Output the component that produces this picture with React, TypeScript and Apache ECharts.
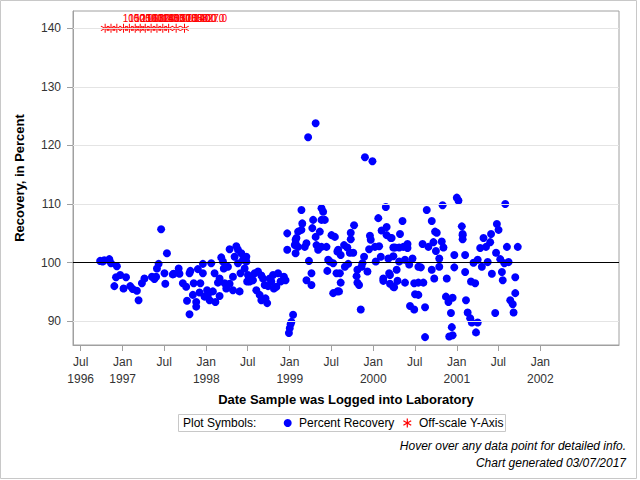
import React, { useEffect, useRef } from "react";
import * as echarts from "echarts";

const FONT = "'Liberation Sans', Arial, Helvetica, sans-serif";

// Axis ticks (x in decimal years: Jan 1 and Jul 1 of each year)
const xTickValues = [1996.497, 1997, 1997.497, 1998, 1998.497, 1999, 1999.497, 2000, 2000.497, 2001, 2001.497, 2002];
const yTickValues = [90, 100, 110, 120, 130, 140];
const referenceLevel = 100;

// [sample date (decimal year), percent recovery]
const recovery1996 = [
  [1996.73, 100.3], [1996.76, 100.2], [1996.78, 100.4], [1996.84, 100.6], [1996.86, 99.9],
  [1996.9, 96.0], [1996.92, 97.5], [1996.93, 99.4], [1996.97, 97.9],
];
const recovery1997 = [
  [1997.01, 95.6], [1997.04, 97.5], [1997.09, 96.0], [1997.12, 95.5], [1997.17, 95.2], [1997.19, 93.6],
  [1997.23, 96.5], [1997.26, 97.3], [1997.35, 97.6], [1997.38, 97.2], [1997.4, 97.6], [1997.41, 99.0],
  [1997.43, 99.8], [1997.46, 105.7], [1997.5, 98.2], [1997.51, 96.4], [1997.53, 101.6], [1997.6, 98.0],
  [1997.61, 98.1], [1997.67, 99.0], [1997.68, 98.1], [1997.72, 96.5], [1997.76, 95.9], [1997.77, 93.5],
  [1997.8, 91.2], [1997.8, 98.2], [1997.81, 98.6], [1997.84, 94.5], [1997.85, 96.5], [1997.88, 93.3],
  [1997.88, 92.5], [1997.9, 98.9], [1997.92, 94.9], [1997.93, 96.5], [1997.96, 99.8], [1997.96, 98.2],
  [1997.98, 94.2],
];
const recovery1998 = [
  [1998.01, 95.3], [1998.02, 94.5], [1998.04, 93.6], [1998.06, 99.9], [1998.08, 95.1], [1998.1, 98.2],
  [1998.11, 93.3], [1998.14, 96.6], [1998.16, 94.3], [1998.16, 97.3], [1998.18, 100.9], [1998.2, 100.2],
  [1998.21, 99.0], [1998.22, 96.5], [1998.24, 95.6], [1998.26, 99.3], [1998.28, 102.3], [1998.28, 96.4],
  [1998.32, 95.3], [1998.32, 97.6], [1998.34, 101.0], [1998.36, 102.8], [1998.38, 102.2], [1998.38, 99.9],
  [1998.4, 95.1], [1998.41, 98.2], [1998.42, 101.6], [1998.44, 100.5], [1998.46, 99.0], [1998.48, 101.0],
  [1998.48, 100.2], [1998.49, 96.8], [1998.5, 97.9], [1998.51, 97.6], [1998.52, 96.8], [1998.54, 97.5],
  [1998.56, 97.0], [1998.58, 98.2], [1998.6, 95.3], [1998.62, 98.5], [1998.64, 94.5], [1998.66, 93.6],
  [1998.66, 97.8], [1998.68, 97.3], [1998.7, 96.2], [1998.71, 93.9], [1998.73, 93.1], [1998.74, 96.0],
  [1998.76, 97.3], [1998.78, 96.8], [1998.8, 97.9], [1998.81, 95.6], [1998.84, 95.9], [1998.86, 98.2],
  [1998.89, 96.8], [1998.93, 97.6], [1998.95, 97.0], [1998.97, 105.0], [1998.97, 102.2], [1998.99, 88.0],
];
const recovery1999 = [
  [1999.0, 88.8], [1999.01, 89.5], [1999.02, 89.9], [1999.04, 91.1], [1999.06, 103.0], [1999.07, 103.9],
  [1999.07, 101.6], [1999.07, 103.3], [1999.08, 104.2], [1999.1, 105.3], [1999.1, 102.7], [1999.14, 109.0],
  [1999.15, 106.7], [1999.14, 105.6], [1999.18, 102.7], [1999.2, 103.3], [1999.2, 97.0], [1999.22, 121.4],
  [1999.23, 100.3], [1999.26, 98.2], [1999.26, 96.2], [1999.27, 105.9], [1999.28, 107.3], [1999.31, 123.8],
  [1999.31, 104.4], [1999.32, 103.0], [1999.34, 102.2], [1999.36, 105.3], [1999.38, 109.3], [1999.38, 107.3],
  [1999.38, 102.7], [1999.4, 108.7], [1999.42, 107.3], [1999.44, 102.7], [1999.45, 98.6], [1999.46, 100.5],
  [1999.48, 100.2], [1999.5, 104.7], [1999.52, 99.9], [1999.52, 94.8], [1999.54, 104.4], [1999.56, 98.2],
  [1999.57, 95.1], [1999.57, 101.9], [1999.58, 102.2], [1999.59, 95.1], [1999.6, 98.2], [1999.61, 101.3],
  [1999.61, 96.6], [1999.65, 103.0], [1999.66, 99.3], [1999.69, 102.6], [1999.7, 99.8], [1999.72, 101.7],
  [1999.73, 105.1], [1999.73, 104.0], [1999.76, 101.7], [1999.77, 106.4], [1999.8, 97.7], [1999.81, 98.8],
  [1999.81, 96.6], [1999.83, 96.2], [1999.85, 92.0], [1999.86, 99.3], [1999.87, 99.9], [1999.89, 101.0],
  [1999.9, 118.0], [1999.93, 98.5], [1999.95, 102.3], [1999.96, 104.6], [1999.97, 103.9], [1999.99, 117.3],
];
const recovery2000 = [
  [2000.02, 102.7], [2000.03, 100.2], [2000.06, 107.6], [2000.07, 102.8], [2000.09, 101.0], [2000.1, 105.5],
  [2000.12, 97.3], [2000.12, 96.9], [2000.15, 109.5], [2000.16, 106.1], [2000.16, 104.7], [2000.18, 100.7],
  [2000.19, 98.2], [2000.2, 96.4], [2000.2, 97.9], [2000.21, 104.2], [2000.22, 104.2], [2000.24, 95.9],
  [2000.24, 102.6], [2000.24, 101.1], [2000.25, 95.8], [2000.26, 102.6], [2000.28, 98.8], [2000.29, 96.9],
  [2000.31, 102.6], [2000.31, 100.2], [2000.32, 104.9], [2000.35, 107.1], [2000.36, 102.7], [2000.38, 100.5],
  [2000.38, 96.6], [2000.41, 103.2], [2000.41, 102.5], [2000.43, 99.7], [2000.44, 92.6], [2000.47, 100.7],
  [2000.49, 96.5], [2000.49, 92.0], [2000.5, 94.6], [2000.54, 99.3], [2000.54, 96.6], [2000.54, 94.5],
  [2000.57, 99.2], [2000.59, 103.2], [2000.6, 96.6], [2000.62, 92.4], [2000.62, 87.3], [2000.64, 109.0],
  [2000.66, 102.7], [2000.7, 107.1], [2000.7, 98.8], [2000.72, 103.5], [2000.73, 97.3], [2000.74, 105.3],
  [2000.75, 102.0], [2000.76, 105.1], [2000.79, 100.7], [2000.79, 99.3], [2000.82, 103.6], [2000.83, 109.8],
  [2000.84, 102.6], [2000.87, 94.2], [2000.88, 97.3], [2000.9, 93.3], [2000.91, 87.4], [2000.93, 91.4],
  [2000.94, 89.0], [2000.95, 87.6], [2000.95, 94.0], [2000.97, 101.3], [2000.97, 99.2],
];
const recovery2001 = [
  [2001.0, 111.1], [2001.02, 110.6], [2001.06, 106.2], [2001.07, 104.9], [2001.07, 104.0], [2001.07, 104.7],
  [2001.1, 101.3], [2001.1, 98.4], [2001.11, 93.6], [2001.13, 91.5], [2001.16, 90.5], [2001.18, 89.8],
  [2001.17, 96.8], [2001.22, 96.5], [2001.2, 100.0], [2001.23, 88.1], [2001.25, 89.8], [2001.25, 100.5],
  [2001.28, 102.5], [2001.3, 99.3], [2001.32, 104.2], [2001.35, 102.7], [2001.37, 100.1], [2001.41, 104.9],
  [2001.4, 103.5], [2001.42, 98.1], [2001.46, 91.4], [2001.47, 101.7], [2001.48, 106.6], [2001.5, 105.6],
  [2001.52, 100.6], [2001.54, 98.4], [2001.55, 97.0], [2001.57, 99.9], [2001.58, 110.0], [2001.6, 102.7],
  [2001.62, 100.1], [2001.64, 93.6], [2001.67, 92.9], [2001.68, 91.5], [2001.7, 94.8], [2001.7, 97.5],
  [2001.73, 102.7],
];

// Off-scale samples: drawn at the top of the axis, labelled with their true value
const offScaleDates = [1996.79, 1996.86, 1996.93, 1997.01, 1997.08, 1997.15, 1997.21, 1997.27, 1997.34, 1997.41, 1997.48, 1997.55, 1997.64, 1997.74];
const offScaleLabels = ["1000.0", "1500.0", "1250.0", "1100.0", "1600.0", "1320.0", "1180.0", "1450.0", "1050.0", "1300.0", "1700.0", "1550.0", "1400.0", "827.0"];
const offScalePlotValue = 140;

const ASTERISK =
  "path://M9,0 L11,0 L11,20 L9,20 Z M18.16,4.13 L19.16,5.87 L1.84,15.87 L0.84,14.13 Z M19.16,14.13 L18.16,15.87 L0.84,5.87 L1.84,4.13 Z";

const fmtX = (v: number) => {
  const yr = Math.floor(v + 0.001);
  const isJul = v - yr > 0.25;
  if (isJul) return Math.abs(v - xTickValues[0]) < 0.01 ? "Jul\n" + yr : "Jul";
  return "Jan\n" + yr;
};

export default function App() {
  const ref = useRef<HTMLDivElement>(null);
  useEffect(() => {
    if (!ref.current) return;
    const chart = echarts.init(ref.current, null, { renderer: "svg" });
    const recovery = [
      ...recovery1996, ...recovery1997, ...recovery1998, ...recovery1999, ...recovery2000, ...recovery2001,
    ];
    const offScale = offScaleDates.map((d) => [d, offScalePlotValue]);
    const gridLines = yTickValues
      .filter((v) => v !== referenceLevel)
      .map((v) => ({ yAxis: v, lineStyle: { color: "#e4e4e4", width: 1, type: "solid" } }));
    const legendY = 423;
    const ast = (cx: number, cy: number) => {
      const r = 4.5;
      const a = r * 0.866;
      const b = r * 0.5;
      const ls = { stroke: "#ff0000", lineWidth: 1.2 };
      return [
        { type: "line", shape: { x1: cx, y1: cy - r, x2: cx, y2: cy + r }, style: ls },
        { type: "line", shape: { x1: cx - a, y1: cy - b, x2: cx + a, y2: cy + b }, style: ls },
        { type: "line", shape: { x1: cx - a, y1: cy + b, x2: cx + a, y2: cy - b }, style: ls },
      ];
    };
    chart.setOption({
      animation: false,
      backgroundColor: "#ffffff",
      textStyle: { fontFamily: FONT },
      grid: {
        left: 73, right: 21, top: 11, bottom: 135,
        show: true, borderColor: "#a0a0a0", borderWidth: 1, backgroundColor: "transparent",
      },
      xAxis: {
        type: "value",
        min: 1996.405,
        max: 2002.942,
        name: "Date Sample was Logged into Laboratory",
        nameLocation: "middle",
        nameGap: 48,
        nameTextStyle: { fontSize: 13, fontWeight: "bold", color: "#000", fontFamily: FONT },
        axisLine: { show: true, onZero: false, lineStyle: { color: "#a0a0a0" } },
        axisTick: { show: true, length: 6, customValues: xTickValues, lineStyle: { color: "#a0a0a0" } },
        axisLabel: {
          customValues: xTickValues, formatter: fmtX, color: "#333", fontSize: 12,
          lineHeight: 17, margin: 8, fontFamily: FONT, verticalAlign: "top",
        },
        splitLine: { show: false },
      },
      yAxis: {
        type: "value",
        min: 85.95,
        max: 142.95,
        name: "Recovery, in Percent",
        nameLocation: "middle",
        nameRotate: 90,
        nameGap: 47,
        nameTextStyle: { fontSize: 13, fontWeight: "bold", color: "#000", fontFamily: FONT },
        axisLine: { show: true, onZero: false, lineStyle: { color: "#a0a0a0" } },
        axisTick: { show: true, length: 6, customValues: yTickValues, lineStyle: { color: "#a0a0a0" } },
        axisLabel: { customValues: yTickValues, color: "#333", fontSize: 12, margin: 12, fontFamily: FONT },
        splitLine: { show: false },
      },
      series: [
        {
          type: "scatter",
          data: [],
          silent: true,
          z: 1,
          markLine: {
            silent: true,
            symbol: "none",
            label: { show: false },
            data: [
              ...gridLines,
              { yAxis: referenceLevel, lineStyle: { color: "#000000", width: 1, type: "solid" } },
            ],
          },
        },
        {
          name: "Percent Recovery",
          type: "scatter",
          z: 3,
          symbol: "circle",
          symbolSize: 8,
          itemStyle: { color: "#0000ff", opacity: 1 },
          data: recovery,
        },
        {
          name: "Off-scale Y-Axis",
          type: "scatter",
          z: 4,
          symbol: ASTERISK,
          symbolSize: 9,
          itemStyle: { color: "#ff0000", opacity: 1 },
          data: offScale,
          label: {
            show: true,
            position: [22, -10],
            formatter: (p: any) => offScaleLabels[p.dataIndex],
            color: "#ff0000",
            fontSize: 10,
            fontFamily: FONT,
          },
        },
      ],
      graphic: [
        { type: "rect", shape: { x: 0.5, y: 0.5, width: 636, height: 478 }, style: { fill: "none", stroke: "#c8c8c8", lineWidth: 1 }, silent: true },
        { type: "rect", shape: { x: 178.5, y: 414.5, width: 327, height: 17 }, style: { fill: "#fff", stroke: "#c8c8c8", lineWidth: 1 } },
        { type: "text", x: 183, y: legendY, style: { text: "Plot Symbols:", fill: "#000", font: `12px ${FONT}`, verticalAlign: "middle" } },
        { type: "circle", shape: { cx: 287.7, cy: legendY, r: 4 }, style: { fill: "#0000ff" } },
        { type: "text", x: 299, y: legendY, style: { text: "Percent Recovery", fill: "#000", font: `12px ${FONT}`, verticalAlign: "middle" } },
        ...ast(407.3, legendY),
        { type: "text", x: 419, y: legendY, style: { text: "Off-scale Y-Axis", fill: "#000", font: `12px ${FONT}`, verticalAlign: "middle" } },
        { type: "text", x: 626, y: 446, style: { text: "Hover over any data point for detailed info.", fill: "#000", font: `italic 12px ${FONT}`, align: "right", verticalAlign: "middle" } },
        { type: "text", x: 626, y: 463, style: { text: "Chart generated 03/07/2017", fill: "#000", font: `italic 12px ${FONT}`, align: "right", verticalAlign: "middle" } },
      ],
    });
    return () => chart.dispose();
  }, []);
  return (
    <div
      ref={ref}
      style={{ position: "absolute", left: 0, top: 0, width: 640, height: 480 }}
    />
  );
}
